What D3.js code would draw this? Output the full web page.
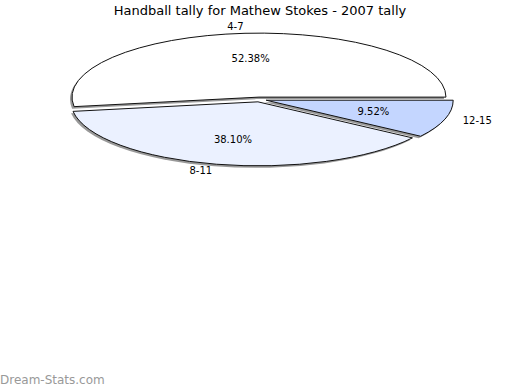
<!DOCTYPE html>
<html>
<head>
<meta charset="utf-8">
<script src="https://cdn.jsdelivr.net/npm/d3@7"></script>
<style>
  body { margin: 0; background: #fff; }
  text { font-family: "DejaVu Sans", sans-serif; }
</style>
</head>
<body>
<script>
var width = 520, height = 390;

// data
var categories = ["4-7", "8-11", "12-15"];
var values = [11, 8, 2];
var colors = ["#ffffff", "#ebf1ff", "#c4d6ff"];
var title = "Handball tally for Mathew Stokes - 2007 tally";

var cx = 259.5, cy = 99.5, rx = 187, ry = 64;
var explode = 7;

var svg = d3.select("body").append("svg")
    .attr("width", width)
    .attr("height", height);

svg.append("text")
    .attr("x", width / 2)
    .attr("y", 10)
    .attr("text-anchor", "middle")
    .attr("dominant-baseline", "central")
    .style("font-size", "13px")
    .text(title);

var total = d3.sum(values);
var fmt = d3.format(".2f");

// angles counter-clockwise from 3 o'clock
var slices = d3.pie().sort(null)(values).map(function(p, i) {
    var a0 = p.startAngle, a1 = p.endAngle, mid = (a0 + a1) / 2;
    return {
        i: i, a0: a0, a1: a1, mid: mid,
        ox: cx + explode * Math.cos(mid),
        oy: cy - explode * (ry / rx) * Math.sin(mid)
    };
});

function pt(s, a, k) {
    return [s.ox + k * rx * Math.cos(a), s.oy - k * ry * Math.sin(a)];
}

function slicePath(s) {
    var p0 = pt(s, s.a0, 1), p1 = pt(s, s.a1, 1);
    var large = (s.a1 - s.a0) > Math.PI ? 1 : 0;
    return "M" + s.ox + "," + s.oy + "L" + p0[0] + "," + p0[1] +
        "A" + rx + "," + ry + " 0 " + large + " 0 " + p1[0] + "," + p1[1] + "Z";
}

// shadows first
svg.append("g")
    .attr("transform", "translate(-2,2)")
    .selectAll("path")
    .data(slices)
    .enter().append("path")
    .attr("d", slicePath)
    .attr("fill", "#999");

svg.append("g")
    .selectAll("path")
    .data(slices)
    .enter().append("path")
    .attr("d", slicePath)
    .attr("fill", d => colors[d.i])
    .attr("stroke", "#111")
    .attr("stroke-width", 1);

// percentages
svg.append("g")
    .selectAll("text")
    .data(slices)
    .enter().append("text")
    .attr("x", d => pt(d, d.mid, 0.6)[0])
    .attr("y", d => pt(d, d.mid, 0.6)[1])
    .attr("text-anchor", "middle")
    .attr("dominant-baseline", "central")
    .style("font-size", "10px")
    .text(d => fmt(values[d.i] / total * 100) + "%");

// category labels
svg.append("g")
    .selectAll("text")
    .data(slices)
    .enter().append("text")
    .attr("x", d => pt(d, d.mid, 1.1)[0])
    .attr("y", d => pt(d, d.mid, 1.1)[1])
    .attr("text-anchor", d => Math.cos(d.mid) < 0 ? "end" : "start")
    .attr("dominant-baseline", "central")
    .style("font-size", "10px")
    .text(d => categories[d.i]);

svg.append("text")
    .attr("x", 0)
    .attr("y", 380)
    .attr("dominant-baseline", "central")
    .attr("fill", "#999")
    .style("font-size", "12px")
    .text("Dream-Stats.com");
</script>
</body>
</html>
